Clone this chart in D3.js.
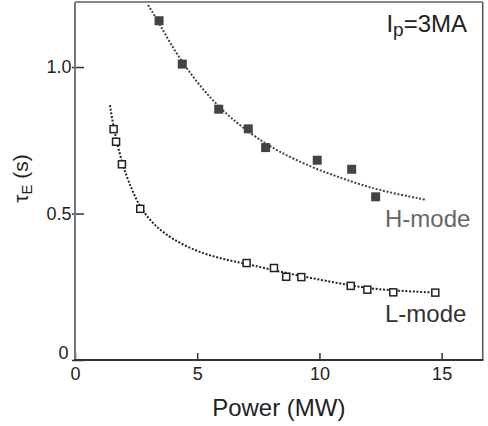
<!DOCTYPE html>
<html>
<head>
<meta charset="utf-8">
<script src="https://cdn.jsdelivr.net/npm/d3@7"></script>
<style>
  html, body { margin: 0; padding: 0; background: #fff; }
  svg { display: block; font-family: "Liberation Sans", Arial, sans-serif; }
</style>
</head>
<body>
<svg id="chart" width="488" height="426"></svg>
<script>
// Energy confinement time vs. heating power, Ip = 3 MA

// H-mode measurements [power MW, tau_E s]
const hPower = [3.44, 4.39, 5.88, 7.09, 7.80, 9.91, 11.32, 12.30];
const hTau   = [1.158, 1.010, 0.856, 0.789, 0.725, 0.682, 0.651, 0.557];

// L-mode measurements
const lPower = [1.58, 1.68, 1.92, 2.67, 7.02, 8.14, 8.64, 9.26, 11.28, 11.96, 13.02, 14.74];
const lTau   = [0.788, 0.745, 0.668, 0.516, 0.331, 0.314, 0.284, 0.283, 0.253, 0.240, 0.231, 0.230];

// Fitted trend curves
const hFitPower = [2.99, 3.44, 4.38, 5.88, 7.32, 8.28, 9.74, 11.04, 12.35, 14.35];
const hFitTau   = [1.212, 1.150, 1.010, 0.857, 0.764, 0.713, 0.655, 0.617, 0.580, 0.547];
const lFitPower = [1.43, 1.58, 1.92, 2.30, 2.70, 3.30, 4.02, 5.00, 6.00, 7.02, 8.14, 9.26, 11.28, 12.50, 14.74];
const lFitTau   = [0.870, 0.790, 0.670, 0.585, 0.514, 0.455, 0.410, 0.370, 0.345, 0.328, 0.306, 0.286, 0.254, 0.239, 0.230];

const xTicks = [0, 5, 10, 15];
const yTicks = [0, 0.5, 1.0];
const yTickLabels = ["0", "0.5", "1.0"];

const svg = d3.select("#chart");
const margin = { left: 75, top: 2, right: 5.3, bottom: 66 };
const W = 488, H = 426;

const x = d3.scaleLinear().domain([0, 16.68]).range([margin.left, W - margin.right]);
const y = d3.scaleLinear().domain([0, 1.222]).range([H - margin.bottom, margin.top]);

const zip = (a, b) => a.map((v, i) => [v, b[i]]);

// x axis, ticks pointing inward
const gx = svg.append("g")
  .attr("transform", `translate(0,${y(0)})`)
  .call(d3.axisBottom(x).tickValues(xTicks).tickSize(-7).tickPadding(7).tickFormat(d3.format("d")));
gx.select(".domain").remove();
gx.selectAll(".tick line").attr("stroke", "#333").attr("stroke-width", 1.5);
gx.selectAll(".tick text").attr("font-size", 18).attr("fill", "#222")
  .attr("font-family", "Liberation Sans, Arial, sans-serif");

// y axis, ticks crossing the frame
const gy = svg.append("g")
  .attr("transform", `translate(${x(0)},0)`)
  .call(d3.axisLeft(y).tickValues(yTicks).tickSize(-9).tickPadding(3.5)
    .tickFormat((d, i) => yTickLabels[i]));
gy.select(".domain").remove();
gy.selectAll(".tick line").attr("x1", -3).attr("stroke", "#333").attr("stroke-width", 1.5);
gy.selectAll(".tick text").attr("font-size", 18).attr("fill", "#222")
  .attr("font-family", "Liberation Sans, Arial, sans-serif")
  .filter(d => d === 0).attr("dx", -3).attr("dy", "0.32em").attr("y", -7);

// plot frame
const x0 = x.range()[0], x1 = x.range()[1], y0 = y.range()[0], y1 = y.range()[1];
svg.append("line").attr("x1", x0).attr("x2", x0).attr("y1", y1).attr("y2", y0)
  .attr("stroke", "#777").attr("stroke-width", 2);
svg.append("line").attr("x1", x0).attr("x2", x1).attr("y1", y1).attr("y2", y1)
  .attr("stroke", "#888").attr("stroke-width", 2);
svg.append("line").attr("x1", x1).attr("x2", x1).attr("y1", y1).attr("y2", y0)
  .attr("stroke", "#555").attr("stroke-width", 1.5);
svg.append("line").attr("x1", x0 - 1).attr("x2", x1 + 0.75).attr("y1", y0).attr("y2", y0)
  .attr("stroke", "#333").attr("stroke-width", 2);

// dotted trend curves
const line = d3.line().x(d => x(d[0])).y(d => y(d[1])).curve(d3.curveBasis);
svg.append("path").datum(zip(hFitPower, hFitTau)).attr("d", line)
  .attr("fill", "none").attr("stroke", "#444").attr("stroke-width", 2)
  .attr("stroke-dasharray", "2,1.7");
svg.append("path").datum(zip(lFitPower, lFitTau)).attr("d", line)
  .attr("fill", "none").attr("stroke", "#222").attr("stroke-width", 2)
  .attr("stroke-dasharray", "2,1.7");

// H-mode: filled squares
const hs = 9;
svg.append("g").selectAll("rect").data(zip(hPower, hTau)).join("rect")
  .attr("x", d => x(d[0]) - hs / 2).attr("y", d => y(d[1]) - hs / 2)
  .attr("width", hs).attr("height", hs).attr("fill", "#444");

// L-mode: open squares
const ls = 7;
svg.append("g").selectAll("rect").data(zip(lPower, lTau)).join("rect")
  .attr("x", d => x(d[0]) - ls / 2).attr("y", d => y(d[1]) - ls / 2)
  .attr("width", ls).attr("height", ls).attr("fill", "#fff")
  .attr("stroke", "#222").attr("stroke-width", 1.5);

// labels
svg.append("text").attr("x", 385).attr("y", 226.5).attr("font-size", 24)
  .attr("fill", "#666").text("H-mode");
svg.append("text").attr("x", 385).attr("y", 321.5).attr("font-size", 24)
  .attr("fill", "#333").text("L-mode");

const ip = svg.append("text").attr("x", 467).attr("y", 31.5).attr("font-size", 24)
  .attr("text-anchor", "end").attr("fill", "#222");
ip.append("tspan").text("I");
ip.append("tspan").attr("font-size", 19).attr("dy", 4).text("p");
ip.append("tspan").attr("dy", -4).text("=3MA");

// axis titles
svg.append("text").attr("x", (x0 + x1) / 2).attr("y", 416).attr("font-size", 24)
  .attr("text-anchor", "middle").attr("fill", "#222").text("Power (MW)");

const yt = svg.append("text").attr("transform", "translate(28,178.5) rotate(-90)")
  .attr("font-size", 21).attr("text-anchor", "middle").attr("fill", "#222");
yt.append("tspan").text("τ");
yt.append("tspan").attr("font-size", 15).attr("dy", 4).text("E");
yt.append("tspan").attr("dy", -4).text(" (s)");
</script>
</body>
</html>
